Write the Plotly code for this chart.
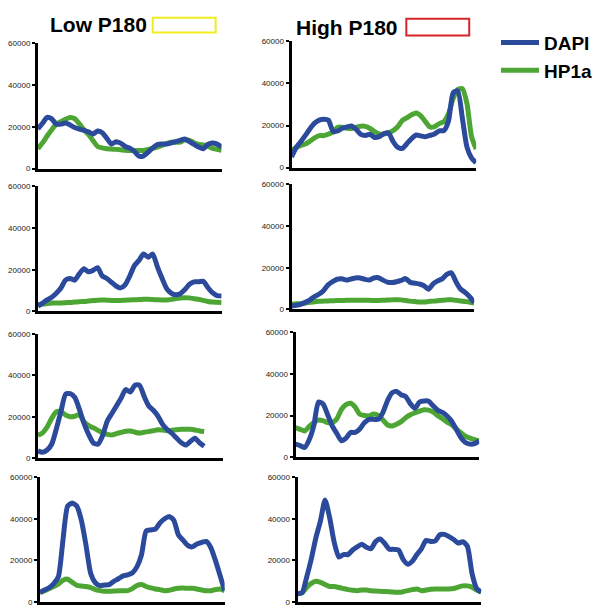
import plotly.graph_objects as go

W, H = 597, 616

# ---------------- data ----------------
positions = [0, 2.5, 5, 7.5, 10, 12.5, 15, 17.5, 20, 22.5, 25, 27.5, 30, 32.5, 35, 37.5,
             40, 42.5, 45, 47.5, 50, 52.5, 55, 57.5, 60, 62.5, 65, 67.5, 70, 72.5, 75,
             77.5, 80, 82.5, 85, 87.5, 90, 92.5, 95, 97.5, 100]

y_tick_values = [0, 20000, 40000, 60000]
y_tick_labels = ["0", "20000", "40000", "60000"]

series_names = ["DAPI", "HP1a"]
column_titles = ["Low P180", "High P180"]

low1_dapi = [19000, 21700, 24500, 23800, 21300, 21300, 21900, 20900, 19700, 18900,
             18300, 17600, 16600, 18000, 17200, 14500, 11800, 12900, 12200, 10600,
             9800, 8200, 5900, 6100, 7900, 9900, 11500, 11800, 11800, 12300,
             12900, 13500, 14200, 12900, 11600, 10300, 9500, 11600, 12300, 11700, 10300]
low1_hp1a = [9500, 12300, 15600, 18600, 21300, 22500, 23600, 24500, 23900, 21500,
             18600, 16400, 13400, 10600, 9900, 9500, 9350, 9200, 9000, 8800,
             8700, 8700, 8700, 8700, 9200, 9700, 10300, 11100, 12000, 12600,
             12600, 12700, 13800, 13500, 12400, 11600, 11300, 10800, 9700, 9200, 8700]

high1_dapi = [5000, 9500, 12300, 15300, 18500, 21100, 22600, 23000, 22500, 17200,
              17400, 18700, 19300, 19800, 18200, 15800, 15300, 15900, 14300, 14700,
              16100, 16500, 12400, 9600, 9100, 11400, 13800, 15500, 15100, 14700,
              15300, 16000, 17500, 17600, 22200, 35500, 36500, 23500, 9700, 4500, 2300]
high1_hp1a = [8200, 9500, 10600, 11200, 12600, 14100, 15200, 15200, 15900, 16800,
              19200, 19200, 18700, 18600, 19200, 19700, 19600, 18600, 17100, 16000,
              16000, 16600, 17600, 19400, 22500, 23700, 25100, 26000, 24600, 21900,
              19300, 19500, 20900, 21900, 25600, 32800, 37100, 37500, 30400, 14600, 8800]

low2_dapi = [2500, 4000, 5500, 6800, 8700, 11200, 15000, 15800, 15000, 18000,
             20500, 19000, 19700, 21000, 17000, 15800, 14000, 12200, 11300, 12800,
             17000, 22000, 24500, 27500, 26000, 27500, 21500, 16000, 11100, 8800,
             8000, 8500, 10500, 13000, 14200, 14200, 14500, 11500, 9000, 7600, 7400]
low2_hp1a = [3200, 3500, 3800, 4000, 4000, 4000, 4200, 4300, 4500, 4700,
             4800, 5000, 5200, 5400, 5500, 5400, 5300, 5200, 5300, 5400,
             5500, 5600, 5700, 5800, 5800, 5700, 5600, 5500, 5500, 5800,
             6200, 6500, 6600, 6500, 6100, 5800, 5300, 4800, 4500, 4400, 4300]

high2_dapi = [1600, 2000, 2500, 3400, 4500, 6200, 7300, 9000, 11800, 13400,
              14500, 14700, 14100, 14600, 15100, 15100, 14500, 14100, 15100, 15200,
              14100, 13100, 12900, 13300, 13900, 14800, 13000, 12600, 12200, 11400,
              9700, 12300, 13700, 14700, 16800, 17600, 13300, 9800, 8200, 6100, 3300]
high2_hp1a = [2500, 2700, 2800, 3100, 3400, 3700, 3900, 4000, 4100, 4200,
              4300, 4300, 4400, 4400, 4400, 4400, 4400, 4400, 4300, 4300,
              4400, 4500, 4600, 4700, 4600, 4300, 4000, 3800, 3600, 3600,
              3800, 4000, 4200, 4400, 4600, 4700, 4400, 4100, 3800, 3500, 3100]

low3_dapi = [3600, 2900, 4000, 6900, 14300, 22800, 31000, 31200, 29400, 23500,
             16700, 11400, 7400, 6800, 10900, 17900, 21600, 25300, 29000, 33200,
             32000, 35300, 35300, 29900, 25300, 23200, 20400, 16400, 13900, 12100,
             9800, 7600, 6400, 8100, 9700, 7500, 5800]
low3_hp1a = [11100, 12300, 15200, 19400, 22500, 22500, 20900, 20100, 20300, 21100,
             17500, 15800, 14700, 13500, 12200, 11600, 11200, 11900, 12500, 13100,
             13200, 12600, 12200, 12600, 12900, 13300, 13800, 13600, 13300, 13500,
             13800, 14000, 14000, 14000, 13700, 13200, 12900]

high3_dapi = [6300, 5600, 4700, 8500, 15300, 26500, 25500, 20400, 15100, 11400,
              7900, 9200, 11900, 11900, 13600, 16600, 18200, 18200, 18200, 21300,
              27000, 30900, 31600, 30000, 29100, 25700, 23500, 26500, 27000, 26900,
              24600, 22500, 21500, 19800, 17300, 13400, 9500, 7100, 6300, 6500, 7900]
high3_hp1a = [14200, 13400, 12600, 14800, 16700, 17900, 17600, 16600, 16600, 18400,
              22900, 25300, 25900, 24000, 20600, 20000, 19800, 20700, 20100, 18000,
              15600, 15000, 15800, 17100, 19000, 20400, 21300, 22100, 22800, 22600,
              21700, 19900, 18500, 16900, 15600, 13600, 11800, 10100, 9200, 8500, 7900]

low4_dapi = [4700, 5800, 6900, 8900, 12200, 30000, 46000, 47500, 46000, 39000,
             27000, 13700, 9300, 7900, 8200, 8400, 10000, 11200, 12600, 13100,
             14000, 16900, 22700, 34100, 34600, 35000, 38000, 40000, 41100, 39200,
             32200, 29700, 27200, 26500, 27900, 28600, 29100, 26200, 20000, 12900, 5500]
low4_hp1a = [4500, 5500, 6500, 7500, 8700, 10500, 11000, 9500, 8000, 7700,
             7500, 7000, 6000, 5500, 5200, 5200, 5300, 5500, 5500, 5500,
             6500, 8000, 8500, 7500, 6800, 6300, 6000, 5500, 5700, 6300,
             6700, 6800, 6600, 6600, 6300, 5800, 5500, 5500, 6000, 6300, 5500]

high4_dapi = [4000, 4500, 12000, 20700, 30800, 39000, 49000, 40500, 28600, 21600,
              22800, 22800, 25000, 26500, 27800, 26300, 25600, 29000, 30300, 28100,
              25400, 25300, 25000, 20500, 18200, 19600, 22800, 25700, 29600, 29100,
              29400, 32300, 32500, 31400, 30000, 28300, 29000, 26700, 13800, 6600, 4700]
high4_hp1a = [4000, 4500, 7000, 9000, 10000, 9500, 8500, 7500, 7500, 7000,
              6500, 6000, 5700, 5500, 5800, 5800, 5500, 5300, 5200, 5100,
              5000, 4800, 4700, 5000, 5500, 6000, 6300, 5500, 5800, 6200,
              6300, 6300, 6300, 6300, 6500, 7200, 7800, 7800, 7200, 5800, 5000]

# ---------------- styling / layout ----------------
DAPI_COLOR = "#2C4A9C"
HP1A_COLOR = "#4DA634"
FONT = "Liberation Sans, Arial, sans-serif"

# (dapi, hp1a, pixel box: left, right, top, bottom)
panels = [
    (low1_dapi, low1_hp1a, (38, 222, 40, 167)),
    (high1_dapi, high1_hp1a, (292, 477, 38, 166)),
    (low2_dapi, low2_hp1a, (38, 222, 185, 312)),
    (high2_dapi, high2_hp1a, (292, 475, 183, 310)),
    (low3_dapi, low3_hp1a, (38, 223, 335, 461)),
    (high3_dapi, high3_hp1a, (296, 480, 333, 460)),
    (low4_dapi, low4_hp1a, (40, 225, 480, 607)),
    (high4_dapi, high4_hp1a, (298, 482, 480, 607)),
]

fig = go.Figure()
layout_axes = {}
for i, (dapi, hp1a, box) in enumerate(panels):
    n = i + 1
    sx = "" if n == 1 else str(n)
    left, right, top, bottom = box
    fig.add_trace(go.Scatter(
        x=positions[:len(hp1a)], y=hp1a, mode="lines",
        line=dict(color=HP1A_COLOR, width=5, shape="spline", smoothing=0.6),
        name=series_names[1], legendrank=2, showlegend=(n == 1),
        xaxis="x" + sx, yaxis="y" + sx, hoverinfo="skip"))
    fig.add_trace(go.Scatter(
        x=positions[:len(dapi)], y=dapi, mode="lines",
        line=dict(color=DAPI_COLOR, width=5, shape="spline", smoothing=0.6),
        name=series_names[0], legendrank=1, showlegend=(n == 1),
        xaxis="x" + sx, yaxis="y" + sx, hoverinfo="skip"))
    layout_axes["xaxis" + sx] = dict(
        domain=[left / W, right / W], range=[0, 100], anchor="y" + sx,
        showline=True, linecolor="black", linewidth=3, showticklabels=False,
        ticks="", showgrid=False, zeroline=False)
    layout_axes["yaxis" + sx] = dict(
        domain=[1 - bottom / H, 1 - top / H], range=[0, 60000], anchor="x" + sx,
        showline=True, linecolor="black", linewidth=3,
        tickvals=y_tick_values, ticktext=y_tick_labels,
        ticks="outside", ticklen=3, tickwidth=2, tickcolor="black",
        tickfont=dict(size=8, color="#222", family=FONT),
        showgrid=False, zeroline=False)

fig.update_layout(**layout_axes)

def px(xp, yp):
    return xp / W, 1 - yp / H

# column titles
for title, cx, cy in [(column_titles[0], 99, 21), (column_titles[1], 348, 24)]:
    ax, ay = px(cx, cy)
    fig.add_annotation(text="<b>" + title + "</b>", x=ax, y=ay, xref="paper", yref="paper",
                       xanchor="center", yanchor="middle", showarrow=False,
                       font=dict(size=21, color="black", family=FONT))

# coloured outline boxes next to titles
for (x0, x1, y0, y1), col in [((153, 216, 14, 29), "#F0EC1E"), ((407, 470, 15, 32), "#D7262B")]:
    a0, b0 = px(x0, y1)
    a1, b1 = px(x1, y0)
    fig.add_shape(type="rect", xref="paper", yref="paper", x0=a0, y0=b0, x1=a1, y1=b1,
                  line=dict(color=col, width=2), fillcolor="rgba(0,0,0,0)")

lx, ly = px(497, 20)
fig.update_layout(
    width=W, height=H, margin=dict(l=0, r=0, t=0, b=0),
    paper_bgcolor="white", plot_bgcolor="white",
    legend=dict(x=lx, y=ly, xanchor="left", yanchor="top",
                font=dict(size=19, family=FONT, color="black", weight="bold"),
                bgcolor="rgba(0,0,0,0)", tracegroupgap=0, itemwidth=38),
)

fig.write_html("out.html", config={"displayModeBar": False},
               post_script="document.body.style.margin='0';document.body.style.overflow='hidden';")
